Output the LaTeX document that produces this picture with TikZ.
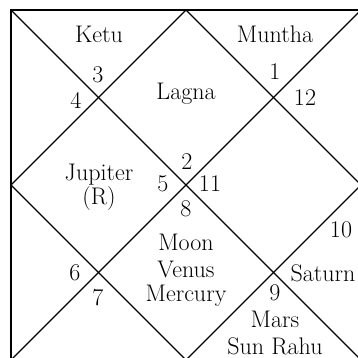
\documentclass[tikz,border=0pt]{standalone}
\begin{document}
\begin{tikzpicture}[x=1pt,y=-1pt,
  chartline/.style={line width=1.4pt,black},
  lbl/.style={font=\fontsize{24}{28}\selectfont,inner sep=0pt,align=center,text=black}]
\useasboundingbox (0,0) rectangle (358,358);
% corners and midpoints
\coordinate (TL) at (11,10);
\coordinate (TR) at (361,10);
\coordinate (BR) at (361,360);
\coordinate (BL) at (11,360);
\coordinate (TM) at (186,10);
\coordinate (RM) at (361,185);
\coordinate (BM) at (186,360);
\coordinate (LM) at (11,185);
\draw[chartline,line width=1.7pt] (TL) -- (TR) -- (BR) -- (BL) -- cycle;
\draw[chartline] (TL) -- (BR);
\draw[chartline] (TR) -- (BL);
\draw[chartline] (TM) -- (RM) -- (BM) -- (LM) -- cycle;
% planets
\node[lbl] (ketu) at (99,34) {Ketu};
\node[lbl] (muntha) at (275,34) {Muntha};
\node[lbl] (lagna) at (186,94) {Lagna};
\node[lbl] (jupiter) at (99,175) {Jupiter};
\node[lbl] (retro) at (99,199) {(R)};
\node[lbl] (moon) at (186,242) {Moon};
\node[lbl] (venus) at (186,269) {Venus};
\node[lbl] (mercury) at (186,296) {Mercury};
\node[lbl] (saturn) at (323,273) {Saturn};
\node[lbl] (mars) at (275,319) {Mars};
\node[lbl] (sunrahu) at (275,346) {Sun\ Rahu};
% house numbers
\node[lbl] (h3) at (98,75) {3};
\node[lbl] (h4) at (76,100) {4};
\node[lbl] (h1) at (275,72) {1};
\node[lbl] (h12) at (305,98) {12};
\node[lbl] (h2) at (187,162) {2};
\node[lbl] (h5) at (163,184) {5};
\node[lbl] (h11) at (210,184) {11};
\node[lbl] (h8) at (186,209) {8};
\node[lbl] (h6) at (75,273) {6};
\node[lbl] (h7) at (98,298) {7};
\node[lbl] (h10) at (341,230) {10};
\node[lbl] (h9) at (275,293) {9};
\end{tikzpicture}
\end{document}
